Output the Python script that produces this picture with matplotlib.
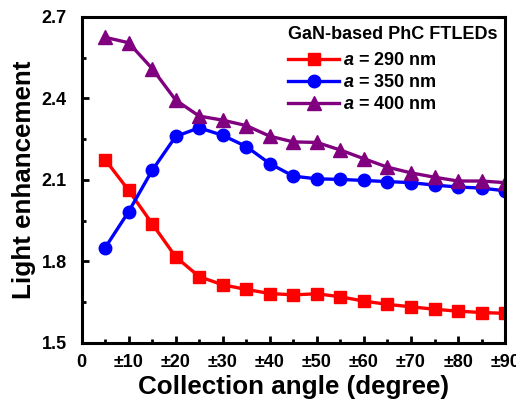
import matplotlib
matplotlib.use("Agg")
import matplotlib.pyplot as plt
from matplotlib.ticker import MultipleLocator, FixedLocator

plt.rcParams['font.family'] = ['Liberation Sans', 'DejaVu Sans']
plt.rcParams['font.weight'] = 'bold'
plt.rcParams['mathtext.fontset'] = 'custom'
plt.rcParams['mathtext.it'] = 'Liberation Sans:italic:bold'
plt.rcParams['mathtext.rm'] = 'Liberation Sans:bold'

angles = [5, 10, 15, 20, 25, 30, 35, 40, 45, 50, 55, 60, 65, 70, 75, 80, 85, 90]
a290 = [2.175, 2.062, 1.939, 1.817, 1.744, 1.714, 1.697, 1.682, 1.677, 1.681,
        1.670, 1.654, 1.642, 1.633, 1.624, 1.617, 1.612, 1.609]
a350 = [1.850, 1.983, 2.135, 2.260, 2.292, 2.264, 2.223, 2.160, 2.114, 2.104,
        2.102, 2.098, 2.094, 2.090, 2.081, 2.074, 2.070, 2.060]
a400 = [2.625, 2.605, 2.510, 2.394, 2.335, 2.320, 2.300, 2.261, 2.240, 2.238,
        2.210, 2.178, 2.147, 2.126, 2.110, 2.096, 2.096, 2.090]
series_labels = ['$a$ = 290 nm', '$a$ = 350 nm', '$a$ = 400 nm']
legend_title = 'GaN-based PhC FTLEDs'
xtick_vals = [0, 10, 20, 30, 40, 50, 60, 70, 80, 90]
xtick_labels = ['0', '±10', '±20', '±30', '±40', '±50', '±60', '±70', '±80', '±90']
ytick_vals = [1.5, 1.8, 2.1, 2.4, 2.7]

fig = plt.figure(figsize=(5.16, 4.03), dpi=100)
ax = fig.add_axes([0.158, 0.149, 0.821, 0.809])

ax.plot(angles, a290, color='#ff0000', marker='s', markersize=8, lw=2.4, label=series_labels[0])
ax.plot(angles, a350, color='#0000ff', marker='o', markersize=9, lw=2.4, label=series_labels[1])
ax.plot(angles, a400, color='#800080', marker='^', markersize=9.5, lw=2.4, label=series_labels[2])

ax.set_xlim(0, 90)
ax.set_ylim(1.5, 2.7)
ax.xaxis.set_major_locator(FixedLocator(xtick_vals))
ax.set_xticklabels(xtick_labels)
ax.xaxis.set_minor_locator(MultipleLocator(5))
ax.yaxis.set_major_locator(FixedLocator(ytick_vals))
ax.yaxis.set_minor_locator(MultipleLocator(0.15))
ax.tick_params(which='both', direction='in', top=False, right=False, labelsize=13, width=2)
ax.tick_params(which='major', length=5)
ax.tick_params(which='minor', length=3)
ax.tick_params(axis='x', which='major', pad=8)
ax.tick_params(axis='y', which='major', pad=10.5)
for s in ax.spines.values():
    s.set_linewidth(2.2)

ax.set_xlabel('Collection angle (degree)', fontsize=18.7, fontweight='bold', labelpad=3)
ax.set_ylabel('Light enhancement', fontsize=18.7, fontweight='bold', labelpad=4)

leg = ax.legend(title=legend_title, loc='upper right', frameon=False, fontsize=13,
                title_fontproperties={'weight': 'bold', 'size': 13},
                handlelength=2.8, bbox_to_anchor=(1.0, 0.994), borderaxespad=0.0,
                labelspacing=0.28, handletextpad=0.2)
leg._legend_box.align = 'left'
leg._legend_box.sep = 6.5

fig.savefig('out.png', dpi=100)
